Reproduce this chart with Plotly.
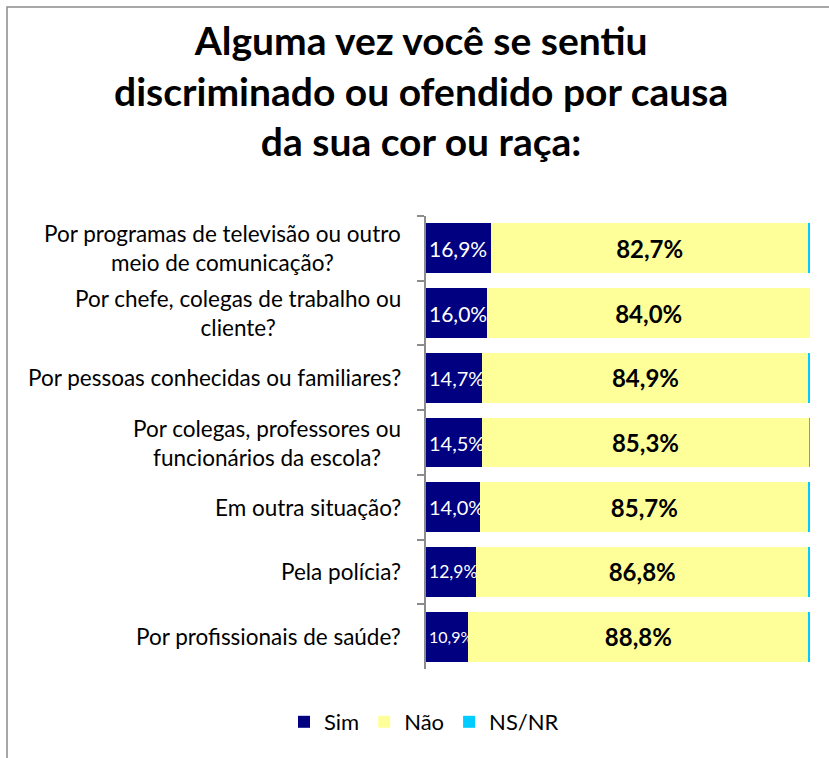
import plotly.graph_objects as go

categories = [
    "Por programas de televisão ou outro<br>meio de comunicação?",
    "Por chefe, colegas de trabalho ou<br>cliente?",
    "Por pessoas conhecidas ou familiares?",
    "Por colegas, professores ou<br>funcionários da escola?",
    "Em outra situação?",
    "Pela polícia?",
    "Por profissionais de saúde?",
]
sim = [16.9, 16.0, 14.7, 14.5, 14.0, 12.9, 10.9]
nao = [82.7, 84.0, 84.9, 85.3, 85.7, 86.8, 88.8]
nsnr = [0.4, 0.0, 0.4, 0.2, 0.3, 0.3, 0.3]

FONT = "Lato, 'Open Sans', sans-serif"
sim_label_sizes = [21, 21, 20, 20, 20, 17.5, 16]

def fmt(v):
    return f"{v:.1f}%".replace(".", ",")

W, H = 829, 758
L, R, T, B = 426, 19, 216, 89
pw, ph = W - L - R, H - T - B

def px2x(p):
    return (p - L) / pw

def py2y(p):
    return (H - B - p) / ph

fig = go.Figure()
fig.add_bar(
    y=categories, x=sim, orientation="h", name="Sim",
    marker=dict(color="#000080", line=dict(width=0)),
    text=[fmt(v) for v in sim], textposition="inside", insidetextanchor="start",
    textangle=0, constraintext="none", cliponaxis=False,
    textfont=dict(color="white", size=sim_label_sizes, family=FONT),
)
fig.add_bar(
    y=categories, x=nao, orientation="h", name="Não",
    marker=dict(color="#FFFF99", line=dict(width=0)),
    text=[f"<b>{fmt(v)}</b>" for v in nao], textposition="inside", insidetextanchor="middle",
    textangle=0,
    textfont=dict(color="black", size=24, family=FONT),
)
fig.add_bar(
    y=categories, x=nsnr, orientation="h", name="NS/NR",
    marker=dict(color="#00CCFF", line=dict(width=0)),
)

for c in categories:
    fig.add_annotation(
        x=px2x(403), xref="paper", y=c, yref="y", text=c, showarrow=False,
        xanchor="right", align="center", font=dict(size=22.5, color="black", family=FONT),
    )

fig.add_annotation(
    x=px2x(421), xref="paper", y=py2y(15), yref="paper", yanchor="top", xanchor="center",
    text="<b>Alguma vez você se sentiu<br>discriminado ou ofendido por causa<br>da sua cor ou raça:</b>",
    showarrow=False, align="center",
    font=dict(size=39, family=FONT, color="black"),
)

fig.add_shape(
    type="rect", xref="paper", yref="paper",
    x0=px2x(7), x1=px2x(845), y0=py2y(780), y1=py2y(7),
    line=dict(color="#8c8c8c", width=1.5), fillcolor="rgba(0,0,0,0)", layer="below",
)

fig.update_layout(
    width=W, height=H,
    margin=dict(l=L, r=R, t=T, b=B),
    barmode="stack", bargap=0.23,
    paper_bgcolor="white", plot_bgcolor="white",
    font=dict(family=FONT, color="black"),
    xaxis=dict(range=[0, 100], visible=False, fixedrange=True),
    yaxis=dict(
        autorange="reversed", showticklabels=False, showgrid=False,
        showline=True, linecolor="#8c8c8c", linewidth=1.5, fixedrange=True,
        ticks="outside", tickson="boundaries", ticklen=7, tickcolor="#8c8c8c", tickwidth=1.5,
    ),
    legend=dict(
        orientation="h", x=px2x(424), xanchor="center", y=py2y(722), yanchor="middle",
        font=dict(size=22, family=FONT), itemwidth=30, traceorder="normal",
    ),
    showlegend=True,
)

fig.write_html(
    "out.html",
    config={"displayModeBar": False},
    post_script="document.body.style.margin='0';document.body.style.overflow='hidden';",
)
